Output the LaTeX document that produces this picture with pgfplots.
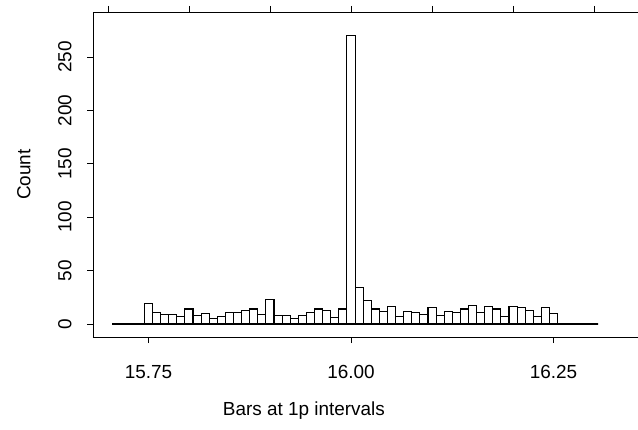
\documentclass[border=0pt]{standalone}
\usepackage{fontspec}
\setmainfont{Liberation Sans}
\usepackage{pgfplots}
\pgfplotsset{compat=1.18}
\newcommand{\fs}{\fontsize{19}{22}\selectfont}

% bin left edges (1p bins centred on each penny) and counts
\pgfplotstableread{
lo      n
15.705  0
15.715  0
15.725  0
15.735  0
15.745  19
15.755  11
15.765  9
15.775  9
15.785  7
15.795  14
15.805  8
15.815  10
15.825  5
15.835  7
15.845  11
15.855  11
15.865  13
15.875  14
15.885  9
15.895  23
15.905  8
15.915  8
15.925  5
15.935  8
15.945  11
15.955  14
15.965  13
15.975  6
15.985  14
15.995  270
16.005  34
16.015  22
16.025  14
16.035  12
16.045  16
16.055  7
16.065  12
16.075  11
16.085  9
16.095  15
16.105  8
16.115  12
16.125  11
16.135  14
16.145  17
16.155  11
16.165  16
16.175  14
16.185  7
16.195  16
16.205  15
16.215  13
16.225  7
16.235  15
16.245  10
16.255  0
16.265  0
16.275  0
16.285  0
16.295  0
16.305  0
}\bins

\begin{document}
\begin{tikzpicture}
\begin{axis}[
  name=ax,
  scale only axis,
  width=545bp, height=325bp,
  xmin=15.6815, xmax=16.3543,
  ymin=-12.2, ymax=292.1,
  axis x line=box, axis y line=left,
  axis line style={-, line width=0.9pt},
  xtick pos=left, ytick pos=left,
  tick align=outside,
  major tick length=6bp,
  every tick/.style={black, line width=0.9pt},
  xtick={15.75,16,16.25},
  xticklabels={15.75,16.00,16.25},
  ytick={0,50,100,150,200,250},
  yticklabels={0,50,100,150,200,250},
  every tick label/.append style={font=\fs},
  xticklabel shift=19bp,
  yticklabel style={rotate=90, anchor=south},
  yticklabel shift=12bp,
  xlabel={Bars at 1p intervals},
  ylabel={Count},
  label style={font=\fs},
  xlabel style={at={(axis description cs:0.387,-0.243)}, anchor=base},
  ylabel style={at={(axis description cs:-0.115,0.5)}, anchor=base, rotate=0},
]
\addplot[ybar interval, draw=black, fill=white, line width=1.1pt] table[x=lo, y=n] {\bins};
\end{axis}
\begin{axis}[
  scale only axis,
  width=545bp, height=325bp,
  xmin=15.6815, xmax=16.3543,
  ymin=-12.2, ymax=292.1,
  axis x line*=top, axis y line=none,
  axis line style={-, line width=0.9pt},
  tick align=outside,
  major tick length=6bp,
  every tick/.style={black, line width=0.9pt},
  xtick={15.7,15.8,15.9,16.0,16.1,16.2,16.3},
  xticklabels={},
  ytick=\empty,
]
\end{axis}
\pgfresetboundingbox
\useasboundingbox ([xshift=-93bp,yshift=-93bp]ax.south west) rectangle ([yshift=12bp]ax.north east);
\end{tikzpicture}
\end{document}
